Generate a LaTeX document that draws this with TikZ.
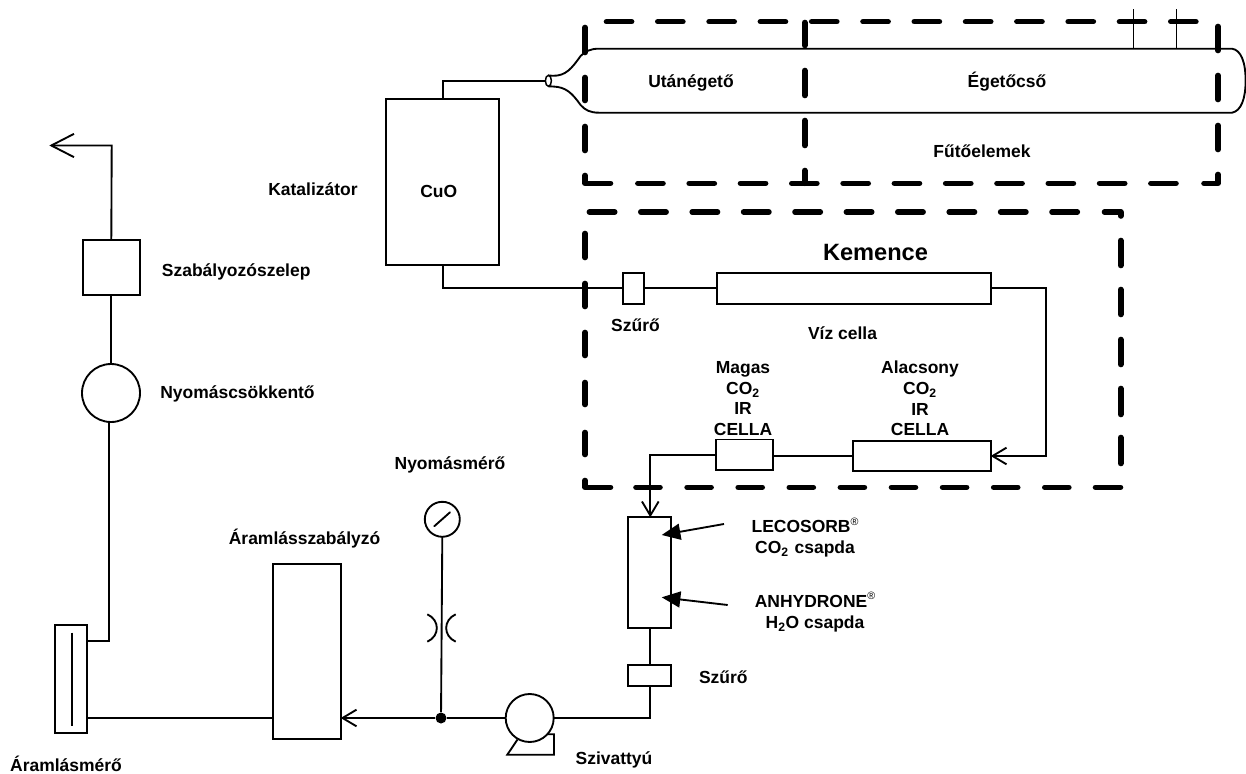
\documentclass[tikz,border=0pt]{standalone}
\usepackage{fontspec}
\setmainfont{Liberation Sans}
\usetikzlibrary{arrows.meta,shapes.geometric}
\tikzset{
  ln/.style={line width=1.4pt,line join=miter,color=black},
  boxn/.style n args={2}{draw,line width=1.4pt,rectangle,inner sep=0pt,outer sep=0pt,minimum width=0.75pt*#1,minimum height=0.75pt*#2},
  roundn/.style={draw,line width=1.4pt,circle,inner sep=0pt,outer sep=0pt,minimum size=0.75pt*#1},
  dashline/.style={line width=4.2pt,line cap=round,line join=round,color=black},
  lbl/.style={inner sep=0pt,outer sep=0pt,text height=12.4pt,text depth=2.8pt,font=\bfseries\fontsize{13.1}{15.5}\selectfont},
  mlbl/.style={inner sep=0pt,outer sep=0pt,align=center,font=\bfseries\fontsize{13.1}{15.5}\selectfont},
  barb/.style={-{Straight Barb[length=10.5pt,width=12.5pt,line width=1.4pt]}},
  bigbarb/.style={-{Straight Barb[length=17pt,width=17.5pt,line width=1.4pt]}},
  pointer/.style={line width=1.4pt,-{Triangle[length=14pt,width=12pt]}}
}
\newcommand{\regmark}{\smash{\raisebox{0.45em}{\fontsize{8}{8}\mdseries\selectfont ®}}}
\begin{document}
\begin{tikzpicture}[x=0.75pt,y=-0.75pt]
\useasboundingbox (0,0) rectangle (1246,774);

% --- heating-tube
\node[ellipse,draw,line width=1.1pt,inner sep=0pt,outer sep=0pt,minimum width=0.75pt*6,minimum height=0.75pt*11] (neck) at (548.4,80.8) {};
\draw[ln] (548.4,75.5) -- (553,75.8) .. controls (566,76) and (572,68) .. (580.6,56)
  .. controls (585,51.5) and (590,48.7) .. (599,48.7) -- (1232,48.7)
  .. controls (1241,50) and (1245.6,62) .. (1245.6,80.7)
  .. controls (1245.6,99) and (1241,111) .. (1232,112.7) -- (599,112.7)
  .. controls (590,112.7) and (585,110) .. (580.6,105)
  .. controls (572,93) and (566,87) .. (553,86.5) -- (548.4,86.3);
\coordinate (ta) at (1133.8,48.7); \coordinate (tat) at (1133.8,9);
\coordinate (tb) at (1176.6,48.7); \coordinate (tbt) at (1176.6,9);
\draw[line width=1pt] (ta) -- (tat);
\draw[line width=1pt] (tb) -- (tbt);

% --- dashed heater box
\foreach \i in {0,...,11} \draw[dashline] ({606.5+51.3*\i},21.7) -- ({631.6+51.3*\i},21.7);
\foreach \i in {0,...,10} \draw[dashline] ({637.9+51.3*\i},183.3) -- ({663+51.3*\i},183.3);
\draw[dashline] (585,175.5) -- (585,183.3) -- (610.5,183.3);
\draw[dashline] (1204,183.3) -- (1218,183.3) -- (1218,174.5);
\foreach \a/\b in {27.5/52.5,77.5/100.5,126.5/150.5} \draw[dashline] (585,\a) -- (585,\b);
\foreach \a/\b in {22.5/45.5,70.5/95.5,120.5/145.5,170.5/183.3} \draw[dashline] (804.7,\a) -- (804.7,\b);
\foreach \a/\b in {26.5/50.5,75.5/99.5,125.5/149.5} \draw[dashline] (1218,\a) -- (1218,\b);

% --- dashed furnace box
\foreach \i in {0,...,9} \draw[dashline] ({589.4+51.4*\i},212) -- ({614.7+51.4*\i},212);
\draw[dashline] (1104.5,212) -- (1120.7,212) -- (1120.7,216);
\foreach \a/\b in {233.5/257.5,283.5/306.5,332.5/355.5,382.5/404.5,432.5/454.5} \draw[dashline] (585,\a) -- (585,\b);
\draw[dashline] (585,480.5) -- (585,487.3) -- (610.5,487.3);
\foreach \i in {0,...,8} \draw[dashline] ({636+51.1*\i},487.3) -- ({660+51.1*\i},487.3);
\draw[dashline] (1095.5,487.3) -- (1120.5,487.3);
\foreach \a/\b in {240.5/265.5,289.5/314.5,339.5/364.5,388.5/414.5,437.5/463.5} \draw[dashline] (1120.7,\a) -- (1120.7,\b);

% --- boxes
\node[boxn={113}{165.7}] (cat) at (442.8,181.9) {};
\node[boxn={21.3}{31}] (filtA) at (633.3,288.2) {};
\node[boxn={274}{31}] (water) at (853.7,288.2) {};
\node[boxn={138}{30.6}] (alow) at (921.7,456) {};
\node[boxn={57}{30.7}] (ahigh) at (744.2,454.8) {};
\node[boxn={43.3}{110.4}] (trap) at (649.65,572.5) {};
\node[boxn={43.3}{20.7}] (filtB) at (649.65,675.6) {};
\node[boxn={57.3}{54.7}] (valve) at (111.3,267.3) {};
\node[roundn=58] (reducer) at (111,393) {};
\node[boxn={67.4}{174.4}] (ctrl) at (307,651.5) {};
\node[boxn={32.3}{107.7}] (meter) at (71.2,678.9) {};
\node[roundn=35] (gauge) at (442.3,519.3) {};
\node[roundn=48] (pump) at (529.7,718) {};
\node[circle,fill=black,inner sep=0pt,minimum size=0.75pt*11] (junc) at (441,718) {};

% --- inner details
\coordinate (mtA) at (71.7,632.7); \coordinate (mtB) at (71.7,725.7);
\draw[line width=1.5pt] (mtA) -- (mtB);
\coordinate (ndA) at (434.3,526.2); \coordinate (ndB) at (450,512.3);
\draw[line width=1.4pt,line cap=round] (ndA) -- (ndB);
\draw[ln] (547.5,734.3) -- (554,734.3) -- (554,754.7) -- (507.3,754.7) -- (517.5,739.5);
\draw[ln] (427.3,614.3) .. controls (440,620) and (440,636) .. (427.3,641.7);
\draw[ln] (455.7,614.3) .. controls (443,620) and (443,636) .. (455.7,641.7);

% --- connectors
\coordinate (catTop) at (442.8,80.8);
\draw[ln] (cat.north) -- (catTop) -- (neck.west);
\draw[ln] (cat.south) |- (filtA.west);
\draw[ln] (filtA.east) -- (water.west);
\coordinate (wcorner) at (1045.7,288.2);
\draw[ln,barb] (water.east) -- (wcorner) |- (alow.east);
\draw[ln] (alow.west) -- (alow.west -| ahigh.east);
\coordinate (hcorner) at (650.3,454.8);
\draw[ln,barb] (ahigh.west) -- (hcorner) -- (hcorner |- trap.north);
\draw[ln] (trap.south) -- (filtB.north);
\coordinate (pcorner) at (649.65,718);
\draw[ln] (filtB.south) -- (pcorner) -- (pump.east);
\draw[ln] (pump.west) -- (junc);
\draw[ln] (gauge.south) -- (junc);
\coordinate (ctrlIn) at (ctrl.east |- junc);
\draw[ln,barb] (junc) -- (ctrlIn);
\coordinate (ctrlOut) at (ctrl.west |- junc);
\coordinate (meterOut) at (meter.east |- junc);
\draw[ln] (ctrlOut) -- (meterOut);
\coordinate (mTap) at (87.4,641); \coordinate (mCorner) at (109.3,641);
\draw[ln] (mTap) -- (mCorner) -- (reducer.south -| mCorner);
\draw[ln] (reducer.north) -- (valve.south -| reducer.north);
\coordinate (vCorner) at (111.7,145.5); \coordinate (vEnd) at (49.3,145.5);
\draw[ln,bigbarb] (valve.north) -- (vCorner) -- (vEnd);
\coordinate (pA) at (724,524); \coordinate (pAt) at (661.7,535);
\coordinate (pB) at (727.7,605); \coordinate (pBt) at (661.7,597.3);
\draw[pointer] (pA) -- (pAt);
\draw[pointer] (pB) -- (pBt);

% --- labels
\node[lbl] (lUtan) at (691,81) {Utánégető};
\node[lbl] (lEget) at (1007,81) {Égetőcső};
\node[lbl] (lFuto) at (982,151) {Fűtőelemek};
\node[lbl] (lKat) at (313,189) {Katalizátor};
\node[lbl] (lCuO) at (438.7,191) {CuO};
\node[lbl,font=\bfseries\fontsize{17.7}{20}\selectfont] (lKem) at (875.5,254.5) {Kemence};
\node[lbl] (lSzA) at (635.5,325) {Szűrő};
\node[lbl] (lViz) at (842.5,332.7) {Víz cella};
\node[mlbl] (lMag) at (743,398.5) {Magas\\CO\textsubscript{2}\\IR\\CELLA};
\node[mlbl] (lAla) at (920,398.5) {Alacsony\\CO\textsubscript{2}\\IR\\CELLA};
\node[lbl] (lSzel) at (236.2,270) {Szabályozószelep};
\node[lbl] (lNyC) at (237.5,391.7) {Nyomáscsökkentő};
\node[lbl] (lNyM) at (450,462.7) {Nyomásmérő};
\node[lbl] (lAsz) at (304.6,537.7) {Áramlásszabályzó};
\node[lbl] (lAm) at (66,765) {Áramlásmérő};
\node[lbl] (lSziv) at (614,758) {Szivattyú};
\node[lbl] (lSzB) at (723.3,676.7) {Szűrő};
\node[mlbl] (lLec) at (805,539) {LECOSORB\regmark\\CO\textsubscript{2}\,\,csapda};
\node[mlbl] (lAnh) at (815,613.5) {ANHYDRONE\regmark\\H\textsubscript{2}O csapda};
\end{tikzpicture}
\end{document}
